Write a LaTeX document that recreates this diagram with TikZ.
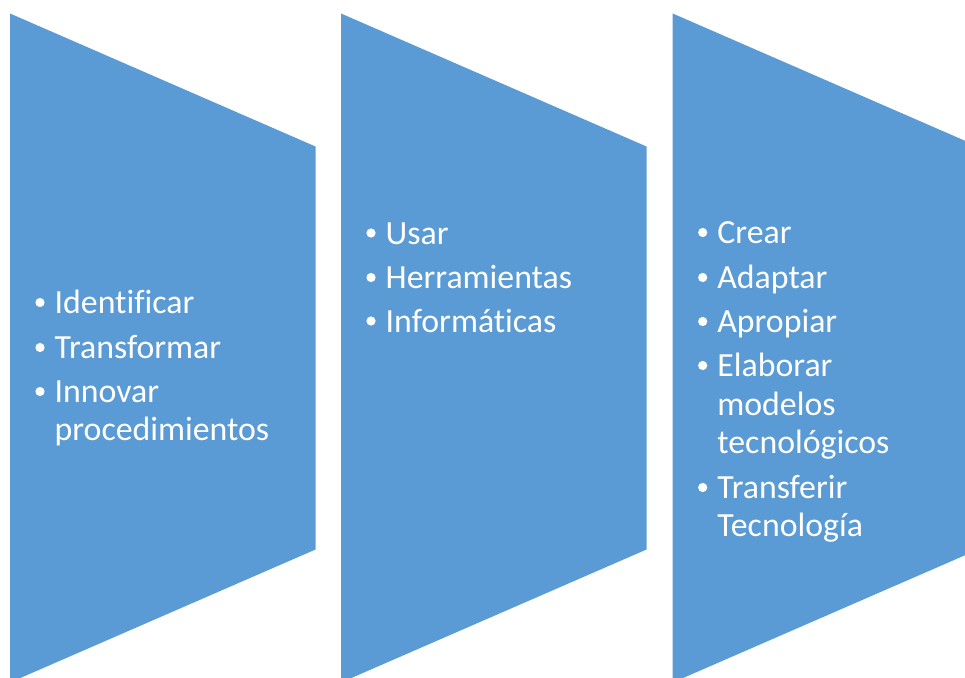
\documentclass[tikz,border=0pt]{standalone}
\usepackage{fontspec}
\setmainfont[Ligatures={NoCommon}]{Carlito}
\definecolor{chevblue}{HTML}{5B9BD5}
\begin{document}
\begin{tikzpicture}[x=1pt,y=-1pt,
  panel/.style={fill=chevblue},
  itemtext/.style={anchor=base west, inner sep=0pt, text=white, font=\fontsize{33.8}{38.5}\selectfont},
  bulletdot/.style={fill=white}]
\useasboundingbox (0,0) rectangle (965,677);
\begin{scope}
\clip (0,0) rectangle (965,677);
\foreach \L in {10,341,672.7}{
  \path[panel] (\L,13.5) -- (\L+305.5,146.5) -- (\L+305.5,549.5) -- (\L,682.5) -- cycle;
}
\end{scope}
% column 1
\node[itemtext] (a1) at (54.5,313.5) {Identificar};
\node[itemtext] (a2) at (54.5,358.5) {Transformar};
\node[itemtext] (a3) at (54.5,402.5) {Innovar};
\node[itemtext] (a4) at (54.5,440.5) {procedimientos};
% column 2
\node[itemtext] (b1) at (385.5,244) {Usar};
\node[itemtext] (b2) at (385.5,288.5) {Herramientas};
\node[itemtext] (b3) at (385.5,332) {Informáticas};
% column 3
\node[itemtext] (c1) at (717.2,243.5) {Crear};
\node[itemtext] (c2) at (717.2,288.5) {Adaptar};
\node[itemtext] (c3) at (717.2,332.5) {Apropiar};
\node[itemtext] (c4) at (717.2,376.5) {Elaborar};
\node[itemtext] (c5) at (717.2,415.5) {modelos};
\node[itemtext] (c6) at (717.2,453.5) {tecnológicos};
\node[itemtext] (c7) at (717.2,498.5) {Transferir};
\node[itemtext] (c8) at (717.2,536.5) {Tecnología};
% bullets
\foreach \n in {a1,a2,a3,b1,b2,b3,c1,c2,c3,c4,c7}{
  \fill[bulletdot] ([xshift=-14.5pt,yshift=11pt]\n.base west) circle (4.6pt);
}
\end{tikzpicture}
\end{document}
